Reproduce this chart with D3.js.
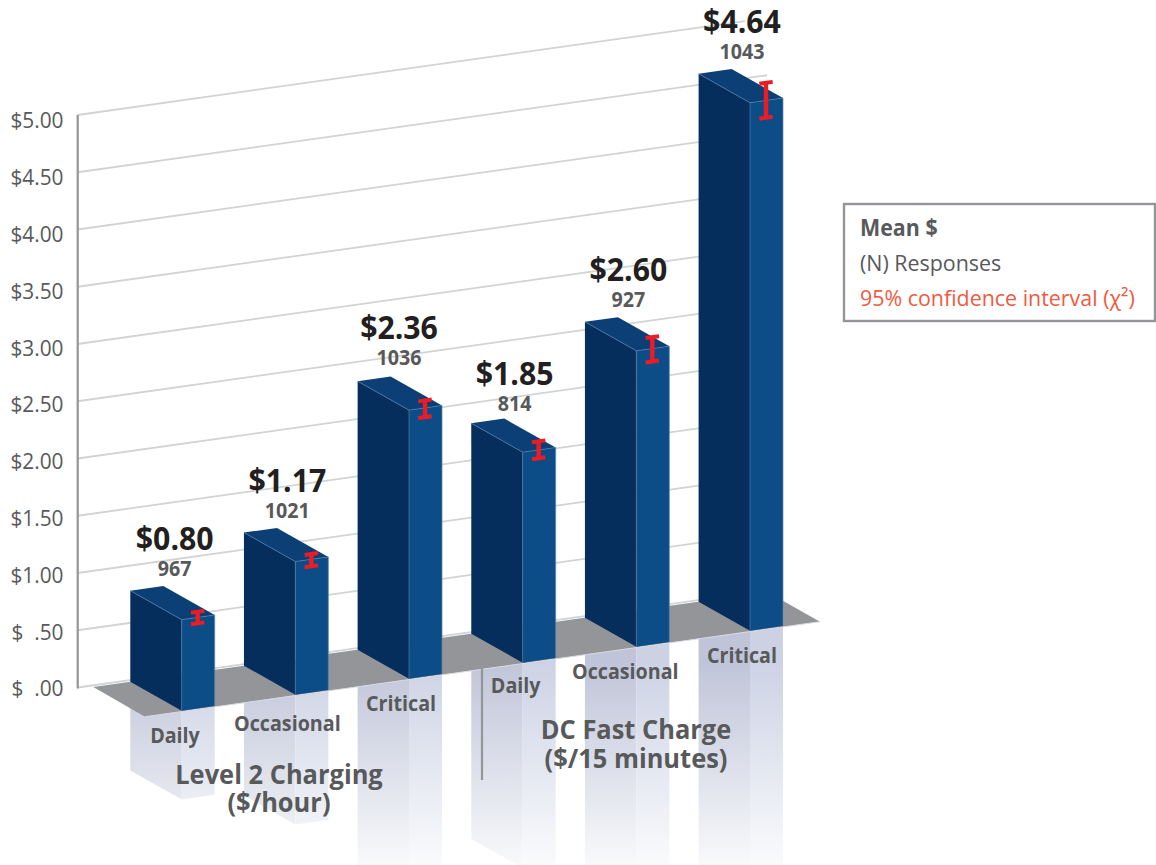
<!DOCTYPE html>
<html><head><meta charset="utf-8">
<script src="https://cdn.jsdelivr.net/npm/d3@7/dist/d3.min.js"></script>
<style>html,body{margin:0;background:#fff}svg{display:block}text{font-family:"Open Sans",sans-serif}</style>
</head><body><svg id="c" width="1156" height="865"></svg>
<script>
const categories = ["Daily","Occasional","Critical","Daily","Occasional","Critical"];
const means = [0.80,1.17,2.36,1.85,2.60,4.64];
const responses = [967,1021,1036,814,927,1043];
const ciLow = [0.745,1.104,2.27,1.77,2.477,4.47];
const ciHigh = [0.846,1.212,2.416,1.918,2.69,4.776];
const tickValues = [0,0.5,1,1.5,2,2.5,3,3.5,4,4.5,5];
const tickLabels = ["$  .00","$  .50","$1.00","$1.50","$2.00","$2.50","$3.00","$3.50","$4.00","$4.50","$5.00"];
const groupTitles = [["Level 2 Charging","($/hour)"],["DC Fast Charge","($/15 minutes)"]];
const legendLines = ["Mean $","(N) Responses","95% confidence interval (χ²)"];

const SLOPE = 0.1407, LEFTW = 51.4, RIGHTW = 33, DEPTHY = 29, SQUEEZE = 0.96;
const svg = d3.select("#c");
const wall = d3.scaleLinear().domain([0,5]).range([687.5,115]);
const labelY = d3.scaleLinear().domain([0,5]).range([689,121]);
const h = d3.scaleLinear().domain([0,5]).range([0,569]);
const xs = d3.scalePoint().domain(d3.range(6)).range([181.7,750]);
const ground = x => 710.7 - SLOPE*(x-181.7);
const fmtVal = d => "$"+d3.format(".2f")(d);
const pts = a => a.map(p=>p.join(",")).join(" ");

const defs = svg.append("defs");
function grad(id,c0,c1){
  const g = defs.append("linearGradient").attr("id",id).attr("gradientUnits","userSpaceOnUse")
    .attr("x1",0).attr("x2",0).attr("y1",660).attr("y2",872);
  g.append("stop").attr("offset",0).attr("stop-color",c0);
  g.append("stop").attr("offset",1).attr("stop-color",c1);
}
grad("rl","#bfc4d8","#fafbfc");
grad("rr","#ccd2e4","#fbfcfd");

// Gridlines and axis
const axisX = 77.7, wallEnd = 767;
svg.append("g").selectAll("line").data(tickValues).join("line")
  .attr("x1",axisX).attr("y1",d=>wall(d))
  .attr("x2",d=>d===5?745:wallEnd)
  .attr("y2",d=>wall(d)-SLOPE*((d===5?745:wallEnd)-axisX))
  .attr("stroke","#d1d3d4").attr("stroke-width",1.8);
svg.append("line").attr("x1",axisX).attr("x2",axisX).attr("y1",wall(5)).attr("y2",wall(0)+1)
  .attr("stroke","#939598").attr("stroke-width",2.2);

const ax = svg.append("g").attr("transform","translate(63.5,0)")
  .call(d3.axisLeft(labelY).tickValues(tickValues).tickSize(0).tickPadding(0)
    .tickFormat((d,i)=>tickLabels[i]));
ax.select(".domain").remove();
ax.selectAll("text").attr("font-size",21.7).attr("fill","#58595b")
  .style("font-family",'"Open Sans",sans-serif').style("white-space","pre").attr("xml:space","preserve");

// Reflections
const refl = svg.append("g");
means.forEach((v,i)=>{
  const x = xs(i), b = ground(x), H = h(v)*0.975;
  refl.append("polygon").attr("fill","url(#rl)").attr("points",pts([
    [x-LEFTW,b-DEPTHY],[x,b],[x,b+H],[x-LEFTW,b-DEPTHY+H]]));
  refl.append("polygon").attr("fill","url(#rr)").attr("points",pts([
    [x,b],[x+RIGHTW,b-RIGHTW*SLOPE],[x+RIGHTW,b-RIGHTW*SLOPE+H],[x,b+H]]));
});

// Floor
const floorLeft=[93.3,687], floorFront=[145,716.7], floorRight=[820,621.7], floorBack=[767.4,592];
svg.append("polygon").attr("fill","#939598").attr("points",pts([floorLeft,floorFront,floorRight,floorBack]));
svg.append("line").attr("x1",floorFront[0]).attr("y1",floorFront[1]).attr("x2",floorRight[0]).attr("y2",floorRight[1])
  .attr("stroke","#d9dbe0").attr("stroke-width",1);

// Bars
const bars = svg.append("g");
const valueDx = [-7,-8,-10,-8,-8,-8], valueDy = [0,0,-1,2.5,0,0];
means.forEach((v,i)=>{
  const x = xs(i), b = ground(x), H = h(v), t = b-H;
  const rx = x+RIGHTW, ry = -RIGHTW*SLOPE;
  bars.append("polygon").attr("fill","#062e5c").attr("points",pts([[x-LEFTW,b-DEPTHY],[x,b],[x,t],[x-LEFTW,t-DEPTHY]]));
  bars.append("polygon").attr("fill","#0d4d87").attr("points",pts([[x,b],[rx,b+ry],[rx,t+ry],[x,t]]));
  bars.append("polygon").attr("fill","#0c3f75").attr("points",pts([[x-LEFTW,t-DEPTHY],[x,t],[rx,t+ry],[rx-LEFTW,t+ry-DEPTHY]]));
  bars.append("polyline").attr("fill","none").attr("stroke","#4f7bab").attr("stroke-width",0.7)
    .attr("points",pts([[x-LEFTW,t-DEPTHY],[x,t],[rx,t+ry]]));
  bars.append("line").attr("x1",x).attr("x2",x).attr("y1",t).attr("y2",b).attr("stroke","#4f7bab").attr("stroke-width",0.7);
  bars.append("line").attr("x1",rx).attr("x2",rx).attr("y1",t+ry).attr("y2",b+ry).attr("stroke","#5f87b3").attr("stroke-width",0.7);
  bars.append("text").attr("x",x+valueDx[i]).attr("y",t-70+valueDy[i]).attr("text-anchor","middle")
    .attr("font-size",31.5).attr("font-weight",700).attr("fill","#231f20").text(fmtVal(v));
  bars.append("text").attr("x",x+valueDx[i]).attr("y",t-44+valueDy[i]).attr("text-anchor","middle")
    .attr("font-size",20.5).attr("font-weight",700).attr("fill","#58595b").text(responses[i]);
});

// Confidence intervals
const ci = svg.append("g").attr("stroke","#ed1c24").attr("fill","none");
means.forEach((v,i)=>{
  const cx = xs(i)+16, b = ground(cx), yLo = b-h(ciLow[i])*1.004, yHi = b-h(ciHigh[i])*1.004, cap = 6.7;
  ci.append("line").attr("x1",cx).attr("x2",cx).attr("y1",yHi).attr("y2",yLo).attr("stroke-width",4.4);
  [yHi,yLo].forEach(y=>ci.append("line").attr("x1",cx-cap).attr("x2",cx+cap)
    .attr("y1",y+cap*SLOPE).attr("y2",y-cap*SLOPE).attr("stroke-width",4));
});

// Category labels
const labels = svg.append("g");
const labelDx = [-6.7,-8,-8,-7,-11,-8], labelDy = [32.5,36,32.5,30.5,32.5,32.5];
categories.forEach((c,i)=>{
  const x = xs(i);
  labels.append("text").attr("x",x+labelDx[i]).attr("y",ground(x)+labelDy[i]).attr("text-anchor","middle")
    .attr("font-size",20.5).attr("font-weight",700).attr("fill","#58595b").text(c);
});

// Group titles
const titleX = [279,636], titleY = [[783.5,812],[738.8,767.5]];
groupTitles.forEach((lines,g)=>lines.forEach((t,k)=>{
  labels.append("text").attr("x",titleX[g]).attr("y",titleY[g][k]).attr("text-anchor","middle")
    .attr("font-size",26.5).attr("font-weight",700).attr("fill","#58595b").text(t);
}));
svg.append("line").attr("x1",482).attr("x2",482).attr("y1",668).attr("y2",780).attr("stroke","#939598").attr("stroke-width",2.2);

// Legend
svg.append("rect").attr("x",844).attr("y",204).attr("width",311).attr("height",117)
  .attr("fill","#fff").attr("stroke","#939598").attr("stroke-width",2.4);
const legendY=[236,271,305.5], legendFill=["#58595b","#58595b","#f15a40"], legendW=[700,400,400];
legendLines.forEach((t,i)=>svg.append("text").attr("x",860).attr("y",legendY[i])
  .attr("font-size",22.3).attr("font-weight",legendW[i]).attr("fill",legendFill[i]).text(t));

// Myriad-like proportions: condense each text uniformly
svg.selectAll("text").each(function(){
  const len = this.getComputedTextLength();
  if(len>0){ d3.select(this).attr("textLength",len*SQUEEZE).attr("lengthAdjust","spacingAndGlyphs"); }
});
</script></body></html>
